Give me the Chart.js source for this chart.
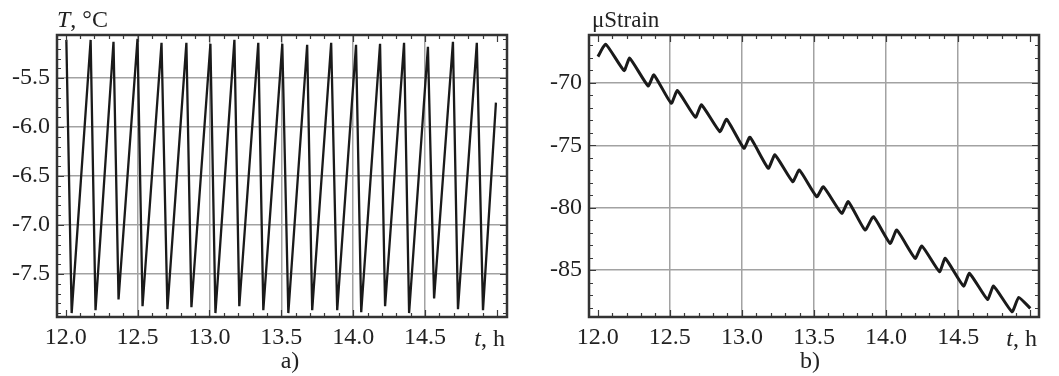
<!DOCTYPE html>
<html lang="en">
<head>
  <meta charset="UTF-8" />
  <title>Temperature and strain vs time</title>
  <style>
    body { margin: 0; background: #fff; }
    .box { position: absolute; top: 0; height: 376px; }
    #boxTemp { left: 0; width: 530px; }
    #boxStrain { left: 530px; width: 529px; }
  </style>
</head>
<body>
  <div class="box" id="boxTemp"><canvas id="chartTemp"></canvas></div>
  <div class="box" id="boxStrain"><canvas id="chartStrain"></canvas></div>

  <script src="https://cdn.jsdelivr.net/npm/chart.js"></script>
  <script>
    // tick labels / grid
    const xTicks = [12.0, 12.5, 13.0, 13.5, 14.0, 14.5, 15.0];
    const xGrid = [12.5, 13.0, 13.5, 14.0, 14.5];
    const tempTicks = [-7.5, -7.0, -6.5, -6.0, -5.5];
    const strainTicks = [-85, -80, -75, -70];

    // a) temperature: peaks and troughs of the sawtooth
    const peakTimes = [12.005, 12.174, 12.333, 12.5, 12.667, 12.84, 13.007, 13.174, 13.34,
                       13.507, 13.68, 13.847, 14.02, 14.187, 14.354, 14.52, 14.694, 14.86];
    const peakTemps = [-5.11, -5.11, -5.13, -5.10, -5.14, -5.14, -5.15, -5.11, -5.14,
                       -5.15, -5.16, -5.14, -5.16, -5.15, -5.14, -5.18, -5.13, -5.14];
    const troughTimes = [12.042, 12.208, 12.368, 12.535, 12.708, 12.875, 13.042, 13.208, 13.375,
                         13.549, 13.715, 13.889, 14.056, 14.222, 14.389, 14.563, 14.729, 14.903];
    const troughTemps = [-7.90, -7.87, -7.76, -7.83, -7.86, -7.84, -7.90, -7.83, -7.87,
                         -7.90, -7.87, -7.87, -7.89, -7.83, -7.90, -7.75, -7.86, -7.87];
    const lastTime = 14.993;
    const lastTemp = -5.75;

    // b) microstrain
    const strainTimes = [12.002, 12.056, 12.183, 12.222, 12.350, 12.390, 12.510, 12.553, 12.678,
                         12.720, 12.847, 12.894, 13.014, 13.056, 13.183, 13.229, 13.352, 13.398,
                         13.519, 13.565, 13.692, 13.738, 13.854, 13.912, 14.028, 14.074, 14.201,
                         14.248, 14.370, 14.410, 14.537, 14.578, 14.703, 14.745, 14.873, 14.919, 15.000];
    const strainValues = [-67.89, -66.90, -69.01, -68.02, -70.24, -69.36, -71.63, -70.62, -72.75,
                          -71.76, -73.90, -72.91, -75.24, -74.35, -76.84, -75.77, -77.91, -76.98,
                          -79.12, -78.32, -80.45, -79.52, -81.79, -80.72, -82.86, -81.79, -84.06,
                          -83.07, -85.13, -84.06, -86.28, -85.26, -87.35, -86.28, -88.34, -87.19, -88.07];

    const tempPoints = [];
    peakTimes.forEach((t, i) => {
      tempPoints.push({ x: t, y: peakTemps[i] });
      tempPoints.push({ x: troughTimes[i], y: troughTemps[i] });
    });
    tempPoints.push({ x: lastTime, y: lastTemp });
    const strainPoints = strainTimes.map((t, i) => ({ x: t, y: strainValues[i] }));

    const FONT = "'Liberation Serif', 'DejaVu Serif', serif";
    const INK = '#222';

    // frame, inner minor ticks and captions
    function molduraPlugin(cfg) {
      return {
        id: 'moldura',
        afterDraw(chart) {
          const { ctx, chartArea: a, scales: { x, y } } = chart;
          ctx.save();
          ctx.strokeStyle = '#3a3a3a';
          ctx.lineWidth = 1.2;
          ctx.beginPath();
          for (let k = Math.ceil(x.min / 0.1 - 1e-9); k * 0.1 <= x.max + 1e-9; k++) {
            const major = k % 5 === 0;
            const len = major ? 7 : 4;
            const px = Math.round(x.getPixelForValue(k * 0.1)) + 0.5;
            ctx.moveTo(px, a.bottom); ctx.lineTo(px, a.bottom - len);
            ctx.moveTo(px, a.top); ctx.lineTo(px, a.top + len);
          }
          const st = cfg.minorY;
          for (let k = Math.ceil(y.min / st - 1e-9); k * st <= y.max + 1e-9; k++) {
            const major = k % cfg.majorEvery === 0;
            const len = major ? 7 : 4;
            const py = Math.round(y.getPixelForValue(k * st)) + 0.5;
            ctx.moveTo(a.left, py); ctx.lineTo(a.left + len, py);
            ctx.moveTo(a.right, py); ctx.lineTo(a.right - len, py);
          }
          ctx.stroke();

          ctx.lineWidth = 2.5;
          ctx.strokeStyle = '#333';
          ctx.strokeRect(a.left, a.top, a.right - a.left, a.bottom - a.top);

          ctx.fillStyle = INK;
          ctx.textBaseline = 'alphabetic';
          // y caption
          ctx.textAlign = 'left';
          let cx = a.left + cfg.yTitleDx;
          cfg.yTitle.forEach(([txt, italic]) => {
            ctx.font = (italic ? 'italic ' : '') + cfg.yTitleSize + 'px ' + FONT;
            ctx.fillText(txt, cx, a.top - 8);
            cx += ctx.measureText(txt).width;
          });
          // t, h
          ctx.font = '24px ' + FONT;
          const wRest = ctx.measureText(', h').width;
          ctx.textAlign = 'right';
          ctx.fillText(', h', a.right - 2, 346);
          ctx.font = 'italic 24px ' + FONT;
          ctx.fillText('t', a.right - 2 - wRest, 346);
          // panel letter
          ctx.font = '24px ' + FONT;
          ctx.textAlign = 'center';
          ctx.fillText(cfg.letter, (a.left + a.right) / 2 + cfg.letterDx, 368);
          ctx.restore();
        }
      };
    }

    function opcoes(yMin, yMax, yTicks, yWidth, padRight, xMax, fmt) {
      return {
        responsive: true,
        maintainAspectRatio: false,
        animation: false,
        layout: { padding: { top: 35, right: padRight, bottom: 0, left: 0 } },
        plugins: { legend: { display: false }, tooltip: { enabled: false } },
        elements: { point: { radius: 0 } },
        scales: {
          x: {
            type: 'linear',
            min: 11.94,
            max: xMax,
            afterBuildTicks: s => { s.ticks = xTicks.map(v => ({ value: v })); },
            afterFit: s => { s.height = 59; },
            ticks: {
              padding: 6,
              maxRotation: 0,
              autoSkip: false,
              color: INK,
              font: { family: FONT, size: 24 },
              callback: v => (v >= 14.9 ? '' : v.toFixed(1))
            },
            grid: {
              drawTicks: false,
              lineWidth: 1.5,
              color: c => (c.tick && xGrid.includes(c.tick.value) ? '#a2a2a2' : 'rgba(0,0,0,0)')
            },
            border: { display: false }
          },
          y: {
            min: yMin,
            max: yMax,
            afterBuildTicks: s => { s.ticks = yTicks.map(v => ({ value: v })); },
            afterFit: s => { s.width = yWidth; },
            ticks: {
              padding: 7,
              color: INK,
              font: { family: FONT, size: 24 },
              callback: fmt
            },
            grid: { drawTicks: false, lineWidth: 1.5, color: '#a2a2a2' },
            border: { display: false }
          }
        }
      };
    }

    new Chart(document.getElementById('chartTemp'), {
      type: 'line',
      data: {
        datasets: [{
          data: tempPoints,
          borderColor: '#1a1a1a',
          borderWidth: 2.3,
          tension: 0
        }]
      },
      options: opcoes(-7.94, -5.06, tempTicks, 57, 23, 15.07, v => v.toFixed(1)),
      plugins: [molduraPlugin({ minorY: 0.1, majorEvery: 5, yTitle: [['T', true], [', °C', false]], yTitleSize: 24, yTitleDx: 0, letter: 'a)', letterDx: 8 })]
    });

    new Chart(document.getElementById('chartStrain'), {
      type: 'line',
      data: {
        datasets: [{
          data: strainPoints,
          borderColor: '#1a1a1a',
          borderWidth: 3,
          tension: 0.15
        }]
      },
      options: opcoes(-88.76, -66.16, strainTicks, 59, 20, 15.06, v => String(v)),
      plugins: [molduraPlugin({ minorY: 1, majorEvery: 5, yTitle: [['μStrain', false]], yTitleSize: 23, yTitleDx: 3, letter: 'b)', letterDx: -4 })]
    });
  </script>
</body>
</html>
